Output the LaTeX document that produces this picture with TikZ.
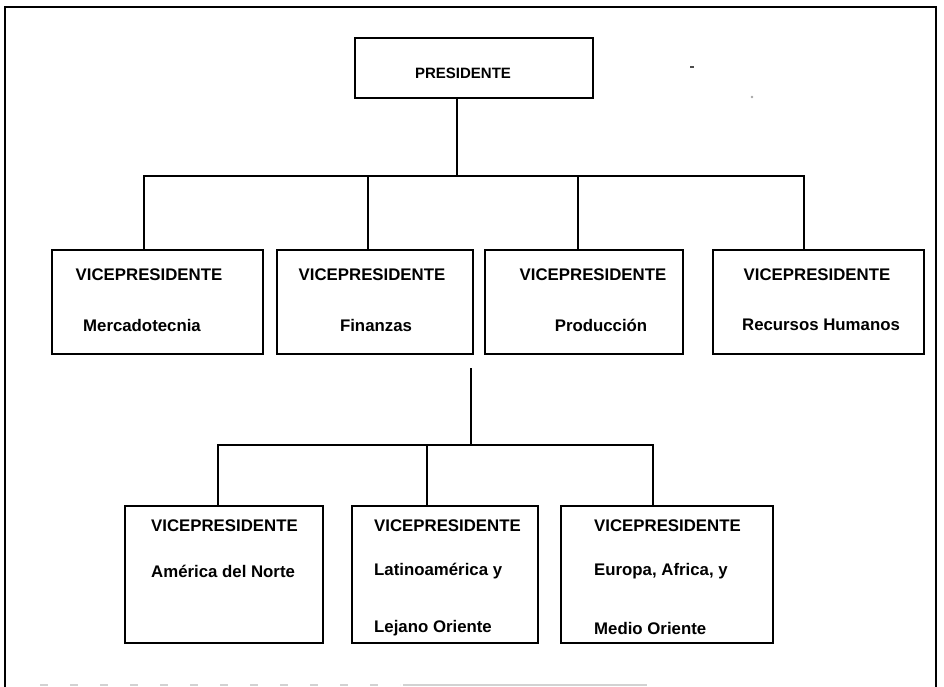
\documentclass[tikz,border=0pt]{standalone}
\usepackage{fontspec}
\setmainfont{Liberation Sans}
\begin{document}
\begin{tikzpicture}[x=1pt,y=-1pt,
  box/.style={draw, line width=2.1pt, inner sep=0pt},
  link/.style={line width=2.1pt},
  frame/.style={line width=2.6pt},
  lbl/.style={inner sep=0pt, font=\bfseries\fontsize{16.8}{20}\selectfont},
  toplbl/.style={inner sep=0pt, font=\bfseries\fontsize{15}{18}\selectfont}]
\useasboundingbox (0,0) rectangle (944,687);

% outer frame
\draw[frame] (5,687) -- (5,7) -- (936,7) -- (936,687);
\draw[gray!35, line width=1.2pt, dash pattern=on 8pt off 22pt] (40,685) -- (400,685);
\draw[gray!35, line width=1.2pt] (403,685) -- (647,685);
\fill[black!70] (690,66.5) rectangle (694,68);
\fill[gray!70] (752,97) circle (1.3);

% top level
\node[box, minimum width=238, minimum height=60] (pres) at (474,68) {};
\node[toplbl] (presT) at (463,73) {PRESIDENTE};

% second level
\node[box, minimum width=211, minimum height=104] (b1) at (157.5,302) {};
\node[box, minimum width=196, minimum height=104] (b2) at (375,302) {};
\node[box, minimum width=198, minimum height=104] (b3) at (584,302) {};
\node[box, minimum width=211, minimum height=104] (b4) at (818.5,302) {};

\node[lbl] (b1a) at (149,275) {VICEPRESIDENTE};
\node[lbl] (b1b) at (142,325) {Mercadotecnia};
\node[lbl] (b2a) at (372,275) {VICEPRESIDENTE};
\node[lbl] (b2b) at (376,325) {Finanzas};
\node[lbl] (b3a) at (593,275) {VICEPRESIDENTE};
\node[lbl] (b3b) at (601,325) {Producción};
\node[lbl] (b4a) at (817,275) {VICEPRESIDENTE};
\node[lbl] (b4b) at (821,325) {Recursos Humanos};

% third level
\node[box, minimum width=198, minimum height=137] (c1) at (224,574.5) {};
\node[box, minimum width=186, minimum height=137] (c2) at (445,574.5) {};
\node[box, minimum width=212, minimum height=137] (c3) at (667,574.5) {};

\node[lbl, anchor=west] (c1a) at (151,526) {VICEPRESIDENTE};
\node[lbl, anchor=west] (c1b) at (151,571) {América del Norte};
\node[lbl, anchor=west] (c2a) at (374,526) {VICEPRESIDENTE};
\node[lbl, anchor=west] (c2b) at (374,571) {Latinoamérica y};
\node[lbl, anchor=west] (c2c) at (374,628) {Lejano Oriente};
\node[lbl, anchor=west] (c3a) at (594,526) {VICEPRESIDENTE};
\node[lbl, anchor=west] (c3b) at (594,571) {Europa, Africa, y};
\node[lbl, anchor=west] (c3c) at (594,628) {Medio Oriente};

% connectors, upper tree
\coordinate (j0) at (457,176);
\coordinate (h1) at (144,176);
\coordinate (h2) at (368,176);
\coordinate (h3) at (578,176);
\coordinate (h4) at (804,176);
\draw[link] (pres.south -| j0) -- (j0);
\draw[link] (h1 |- b1.north) -- (h1) -- (h4) -- (h4 |- b4.north);
\draw[link] (h2) -- (h2 |- b2.north);
\draw[link] (h3) -- (h3 |- b3.north);

% connectors, lower tree
\coordinate (s0) at (471,368);
\coordinate (s1) at (471,445);
\coordinate (g1) at (218,445);
\coordinate (g2) at (427,445);
\coordinate (g3) at (653,445);
\draw[link] (s0) -- (s1);
\draw[link] (g1 |- c1.north) -- (g1) -- (g3) -- (g3 |- c3.north);
\draw[link] (g2) -- (g2 |- c2.north);
\end{tikzpicture}
\end{document}
